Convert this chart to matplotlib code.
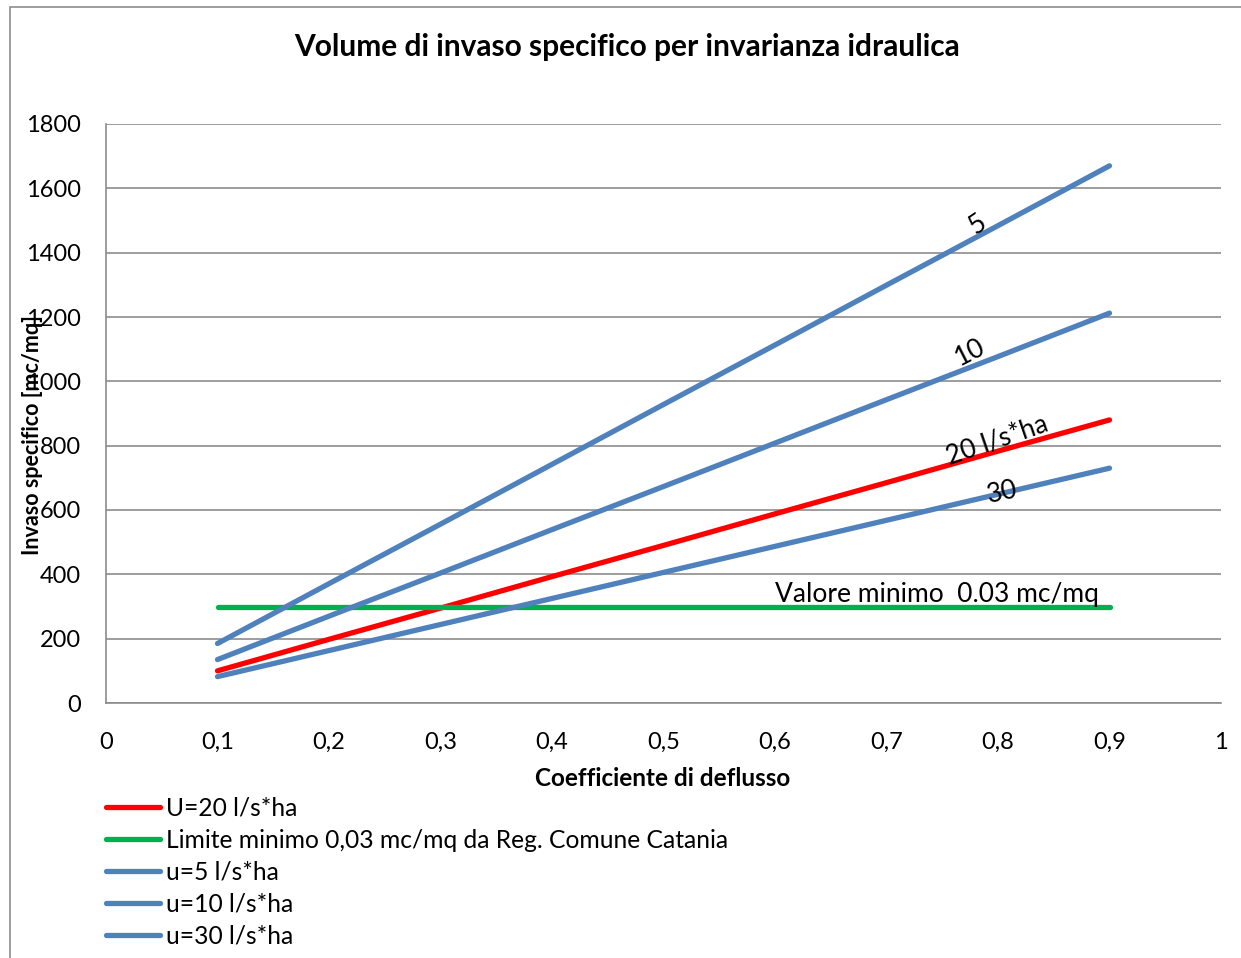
import matplotlib.pyplot as plt
from matplotlib.patches import Rectangle

plt.rcParams['font.family'] = ['Lato', 'DejaVu Sans']

# Data
coeff = [0.1, 0.2, 0.3, 0.4, 0.5, 0.6, 0.7, 0.8, 0.9]
u20 = [100, 198, 295, 393, 490, 588, 685, 783, 880]
limite = [300, 300, 300, 300, 300, 300, 300, 300, 300]
u5 = [185, 371, 556, 742, 928, 1113, 1299, 1484, 1670]
u10 = [135, 270, 404, 539, 673, 808, 943, 1077, 1212]
u30 = [82, 163, 244, 325, 406, 487, 568, 649, 730]
x_ticks = [0, 0.1, 0.2, 0.3, 0.4, 0.5, 0.6, 0.7, 0.8, 0.9, 1]
y_ticks = [0, 200, 400, 600, 800, 1000, 1200, 1400, 1600, 1800]

blue = '#4F81BD'
fig = plt.figure(figsize=(12.41, 9.58), dpi=100)

# outer chart border
fig.patches.append(Rectangle((10 / 1241, -0.01), 1.2, 1 - 7 / 958 + 0.01,
                             transform=fig.transFigure, fill=False,
                             edgecolor='#8c8c8c', linewidth=1.2))

ax = fig.add_axes([106 / 1241, 1 - 703 / 958, 1115 / 1241, 579 / 958])

lw = 3.8
ax.plot(coeff, u20, color='#FF0000', lw=lw, solid_capstyle='round', label='U=20 l/s*ha')
ax.plot(coeff, limite, color='#00B050', lw=lw, solid_capstyle='round',
        label='Limite minimo 0,03 mc/mq da Reg. Comune Catania')
ax.plot(coeff, u5, color=blue, lw=lw, solid_capstyle='round', label='u=5 l/s*ha')
ax.plot(coeff, u10, color=blue, lw=lw, solid_capstyle='round', label='u=10 l/s*ha')
ax.plot(coeff, u30, color=blue, lw=lw, solid_capstyle='round', label='u=30 l/s*ha')

ax.set_xlim(0, 1)
ax.set_ylim(0, 1800)
ax.set_xticks(x_ticks)
ax.set_xticklabels([('%g' % v).replace('.', ',') for v in x_ticks])
ax.set_yticks(y_ticks)
ax.tick_params(length=0, labelsize=17)
ax.tick_params(axis='x', pad=21)
ax.tick_params(axis='y', pad=18)
ax.grid(axis='y', color='#8c8c8c', linewidth=1.2)
ax.set_axisbelow(True)
for s in ['top', 'right']:
    ax.spines[s].set_visible(False)
for s in ['left', 'bottom']:
    ax.spines[s].set_color('#8c8c8c')
    ax.spines[s].set_linewidth(1.2)

# line labels
ax.text(0.782, 1486, '5', rotation=34, fontsize=19, ha='center', va='center')
ax.text(0.775, 1091, '10', rotation=27, fontsize=19, ha='center', va='center')
ax.text(0.799, 817, '20 l/s*ha', rotation=19, fontsize=19, ha='center', va='center')
ax.text(0.804, 656, '30', rotation=12, fontsize=19, ha='center', va='center')
ax.text(0.745, 338, 'Valore minimo  0.03 mc/mq', fontsize=19, ha='center', va='center')

fig.text(627 / 1241, 1 - 47 / 958, 'Volume di invaso specifico per invarianza idraulica',
         fontsize=21.5, fontweight='bold', ha='center', va='center')
fig.text(663 / 1241, 1 - 778 / 958, 'Coefficiente di deflusso',
         fontsize=17.5, fontweight='bold', ha='center', va='center')
fig.text(33 / 1241, 1 - 435 / 958, 'Invaso specifico [mc/mq]', rotation=90,
         fontsize=15.5, fontweight='bold', ha='center', va='center')

fig.legend(loc='upper left', bbox_to_anchor=(96 / 1241, 1 - 787 / 958),
           frameon=False, fontsize=17.7, handlelength=2.2, handletextpad=0.25,
           labelspacing=0.36, borderaxespad=0)

fig.savefig('out.png', dpi=100)
